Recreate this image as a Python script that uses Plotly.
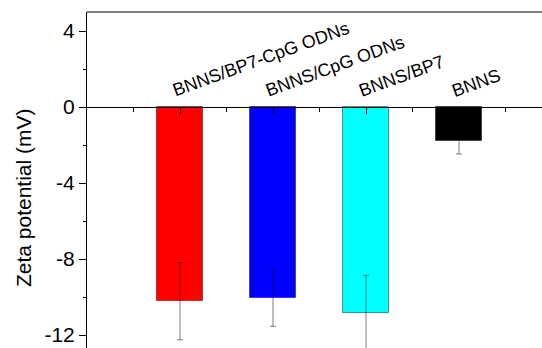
import plotly.graph_objects as go

categories = ["BNNS/BP7-CpG ODNs", "BNNS/CpG ODNs", "BNNS/BP7", "BNNS"]
positions = [1, 2, 3, 4]
zeta = [-10.22, -10.06, -10.83, -1.77]
zeta_err = [2.03, 1.48, 1.97, 0.70]
colors = ["#FF0000", "#0000FF", "#00FFFF", "#000000"]
y_ticks = [4, 0, -4, -8, -12]

FONT = "Arial, Liberation Sans, sans-serif"

fig = go.Figure()
fig.add_trace(go.Bar(
    x=positions, y=zeta, width=0.5,
    marker=dict(color=colors, line=dict(color="rgba(0,0,0,0.45)", width=1)),
    error_y=dict(type="data", array=zeta_err, visible=True,
                 color="rgba(0,0,0,0.5)", thickness=1, width=3),
    showlegend=False,
))

for p, name in zip(positions, categories):
    fig.add_annotation(x=p - 0.13, y=0.2, xref="x", yref="y", text=name,
                       textangle=-20, xanchor="left", yanchor="bottom",
                       showarrow=False, font=dict(family=FONT, size=18, color="black"))

fig.add_annotation(x=(23 - 87) / (542 - 87), y=-4.79, xref="paper", yref="y",
                   text="Zeta potential (mV)",
                   textangle=-90, xanchor="center", yanchor="middle", showarrow=False,
                   font=dict(family=FONT, size=21, color="black"))

fig.add_shape(type="line", xref="paper", yref="paper", x0=0, x1=1, y0=1, y1=1,
              line=dict(color="black", width=1))

fig.update_layout(
    width=542, height=348,
    margin=dict(l=87, r=0, t=12, b=0),
    plot_bgcolor="white", paper_bgcolor="white",
    bargap=0,
    xaxis=dict(range=[0, 1 + (542 - 180) / 93], showgrid=False, zeroline=False,
               anchor="free", position=12.68 / 17.68,
               showline=True, linecolor="black", linewidth=1,
               tickmode="array", tickvals=positions, showticklabels=False,
               ticks="outside", ticklen=6, tickcolor="black", tickwidth=1,
               minor=dict(tickmode="array", tickvals=[0.5, 1.5, 2.5, 3.5, 4.5],
                          ticks="outside", ticklen=4, tickcolor="black", tickwidth=1)),
    yaxis=dict(range=[-12.68, 5], showgrid=False, zeroline=False,
               showline=True, linecolor="black", linewidth=1,
               tickmode="array", tickvals=y_ticks, ticktext=[str(v) for v in y_ticks],
               ticks="outside", ticklen=7, tickcolor="black", tickwidth=1,
               tickfont=dict(family=FONT, size=21, color="black"),
               minor=dict(tickmode="array", tickvals=[2, -2, -6, -10],
                          ticks="outside", ticklen=3, tickcolor="black", tickwidth=1)),
)

fig.write_html("out.html")
